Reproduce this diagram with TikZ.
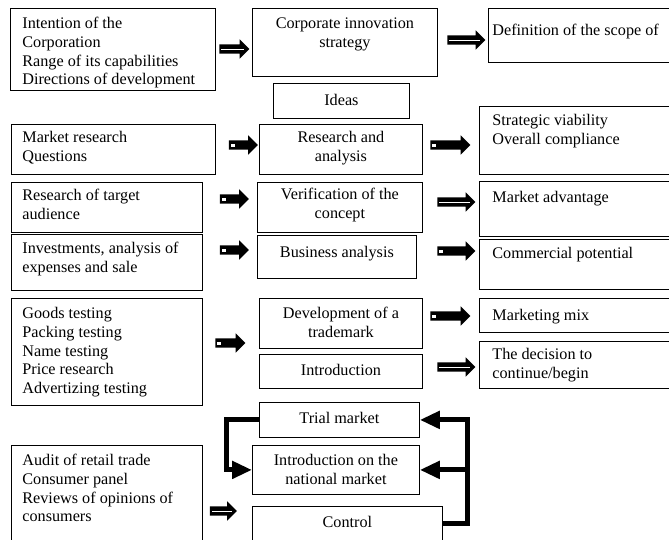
\documentclass[tikz,border=0pt]{standalone}
\usepackage{fontspec}
\setmainfont{Liberation Serif}
\usetikzlibrary{shapes.arrows,arrows.meta,calc}

% text cells: width, height, top gap, text
\newcommand\lcell[5][11pt]{\parbox[c][#3][t]{#2}{\raggedright\leftskip=#1\vspace*{#4}\strut#5}}
\newcommand\ccell[4]{\parbox[c][#2][t]{#1}{\centering\vspace*{#3}\strut#4}}

\tikzset{
  box/.style={draw, line width=0.8pt, anchor=north west, inner sep=0pt,
    font=\fontsize{16.2}{18.8}\selectfont},
  solidarr/.style={single arrow, fill=black, inner xsep=0pt, inner ysep=4.5pt, minimum height=#1,
    single arrow head extend=5pt,
    path picture={\fill[white] ($(path picture bounding box.west)+(2pt,-1.5pt)$) rectangle ++(4pt,3pt);}},
  solidarr/.default=30pt,
  linedarr/.style={single arrow, fill=black, inner xsep=0pt, inner ysep=4.5pt, minimum height=#1,
    single arrow head extend=5pt,
    path picture={\draw[white,line width=0.6pt] ($(path picture bounding box.west)+(2pt,0pt)$) -- ($(path picture bounding box.east)+(-5pt,0pt)$);}},
  linedarr/.default=30pt,
  backline/.style={line width=5pt, line join=miter, -{Triangle[length=20pt,width=17pt]}}
}

\begin{document}
\begin{tikzpicture}[x=1pt,y=-1pt]
  \useasboundingbox (0,0) rectangle (669,539);

  % first block
  \node[box] (int) at (10,8) {\lcell[12pt]{205pt}{82pt}{7pt}{Intention of the\\Corporation\\Range of its capabilities\\Directions of development}};
  \node[box] (cis) at (252,8) {\ccell{185pt}{68pt}{7pt}{Corporate innovation\\strategy}};
  \node[box] (scope) at (488,8) {\lcell[4pt]{200pt}{54pt}{14pt}{Definition of the scope of}};
  \node[box] (ideas) at (273,83) {\ccell{136pt}{35pt}{9pt}{Ideas}};

  % research rows
  \node[box] (mres) at (11,124) {\lcell{204pt}{50pt}{5pt}{Market research\\Questions}};
  \node[box] (rna) at (259,124) {\ccell{163pt}{50pt}{5pt}{Research and\\analysis}};
  \node[box] (strat) at (479,106) {\lcell[13pt]{210pt}{68pt}{6pt}{Strategic viability\\Overall compliance}};

  \node[box] (targ) at (11,182) {\lcell{191pt}{50pt}{5pt}{Research of target\\audience}};
  \node[box] (verif) at (257,182) {\ccell{165pt}{50pt}{4pt}{Verification of the\\concept}};
  \node[box] (madv) at (479,181) {\lcell[13pt]{210pt}{55pt}{8pt}{Market advantage}};

  \node[box] (inv) at (11,234) {\lcell{191pt}{56pt}{6pt}{Investments, analysis of\\expenses and sale}};
  \node[box] (bus) at (257,235) {\ccell{159pt}{43pt}{9pt}{Business analysis}};
  \node[box] (comm) at (479,239) {\lcell[13pt]{210pt}{50pt}{6pt}{Commercial potential}};

  % testing
  \node[box] (goods) at (11,298) {\lcell{191pt}{107pt}{7pt}{Goods testing\\Packing testing\\Name testing\\Price research\\Advertizing testing}};
  \node[box] (dev) at (259,298) {\ccell{163pt}{50pt}{7pt}{Development of a\\trademark}};
  \node[box] (intro) at (259,354) {\ccell{163pt}{34pt}{8pt}{Introduction}};
  \node[box] (mix) at (479,298) {\lcell[13pt]{210pt}{34pt}{9pt}{Marketing mix}};
  \node[box] (dec) at (479,341) {\lcell[13pt]{210pt}{47pt}{5pt}{The decision to\\continue/begin}};

  % market
  \node[box] (trial) at (259,402) {\ccell{160pt}{35pt}{8pt}{Trial market}};
  \node[box] (nat) at (252,445) {\ccell{167pt}{49pt}{7pt}{Introduction on the\\national market}};
  \node[box] (ctrl) at (252,506) {\ccell{190pt}{34pt}{8pt}{Control}};
  \node[box] (audit) at (11,445) {\lcell{191pt}{110pt}{7pt}{Audit of retail trade\\Consumer panel\\Reviews of opinions of\\consumers}};

  % block arrows
  \node[linedarr=30pt] (a1) at (232,49) {};
  \node[linedarr=38pt] (a2) at (464,40) {};
  \node[solidarr=29pt] (a3) at (241,145) {};
  \node[solidarr=40pt] (a4) at (448,145) {};
  \node[solidarr=29pt] (a5) at (232,199) {};
  \node[linedarr=38pt] (a6) at (454,202) {};
  \node[solidarr=29pt] (a7) at (232,250) {};
  \node[solidarr=38pt] (a8) at (454,251) {};
  \node[solidarr=30pt] (a9) at (228,343) {};
  \node[solidarr=40pt] (a10) at (448,316) {};
  \node[linedarr=38pt] (a11) at (454,367) {};
  \node[linedarr=27pt] (a12) at (221,511) {};

  % feedback
  \draw[backline] (trial.west) -- ++(-33,0) |- (nat.west);
  \coordinate (rt) at ($(ctrl.east)+(25pt,0pt)$);
  \draw[backline] (ctrl.east) -- (rt) |- (trial.east);
  \draw[backline] (rt |- nat.east) -- (nat.east);
\end{tikzpicture}
\end{document}
